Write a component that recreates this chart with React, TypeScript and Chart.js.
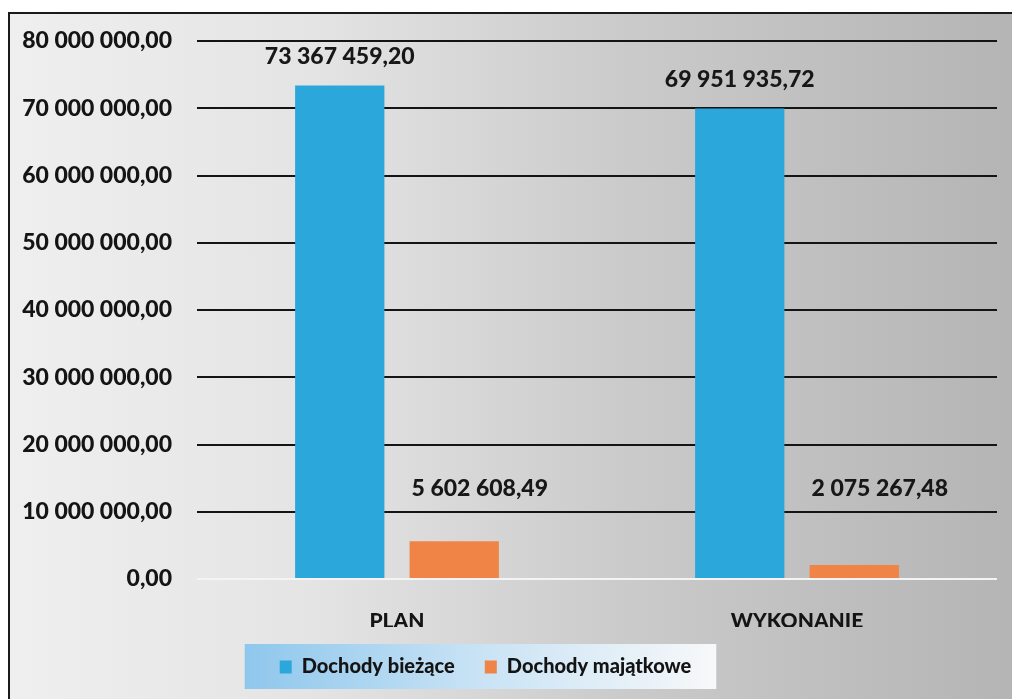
import React, { useEffect, useRef } from 'react';
import { Chart, registerables } from 'chart.js';

Chart.register(...registerables);

const categories = ['PLAN', 'WYKONANIE'];
const seriesNames = ['Dochody bieżące', 'Dochody majątkowe'];
const dochodyBiezace = [73367459.2, 69951935.72];
const dochodyMajatkowe = [5602608.49, 2075267.48];
const yMin = 0;
const yMax = 80000000;
const yStep = 10000000;

const FONT = 'Lato, "Open Sans", sans-serif';
const BLUE = '#2CA7DC';
const ORANGE = '#EF8446';

function formatPL(v: number): string {
  const [int, dec] = v.toFixed(2).split('.');
  return int.replace(/\B(?=(\d{3})+(?!\d))/g, ' ') + ',' + dec;
}

const valueLabels = {
  id: 'valueLabels',
  afterDatasetsDraw(chart: any) {
    const ctx = chart.ctx;
    const y0 = chart.scales.y.getPixelForValue(0);
    ctx.save();
    ctx.font = `900 23px ${FONT}`;
    ctx.fillStyle = '#171717';
    ctx.textBaseline = 'middle';
    chart.data.datasets.forEach((ds: any, di: number) => {
      const meta = chart.getDatasetMeta(di);
      meta.data.forEach((bar: any, i: number) => {
        const text = formatPL(ds.data[i]);
        if (di === 0) {
          ctx.textAlign = 'center';
          ctx.fillText(text, bar.x, bar.y - 29);
        } else {
          ctx.textAlign = 'left';
          ctx.fillText(text, bar.x - bar.width / 2 + 2, y0 - 90);
        }
      });
    });
    ctx.restore();
  },
};

const legendShift = {
  id: 'legendShift',
  afterLayout(chart: any) {
    const lg = chart.legend;
    if (!lg) return;
    lg.right -= 26;
    lg.width -= 26;
  },
};

const legendBg = {
  id: 'legendBg',
  beforeDraw(chart: any) {
    const lg = chart.legend;
    if (!lg || !lg.legendHitBoxes || !lg.legendHitBoxes.length) return;
    const boxes = lg.legendHitBoxes;
    const left = boxes[0].left - 35;
    const right = boxes[boxes.length - 1].left + boxes[boxes.length - 1].width + 25;
    const cy = boxes[0].top + boxes[0].height / 2;
    const top = cy - 23;
    const bottom = cy + 22;
    const ctx = chart.ctx;
    const g = ctx.createLinearGradient(left, 0, right, 0);
    g.addColorStop(0, '#8fc7ec');
    g.addColorStop(0.5, '#c9e3f5');
    g.addColorStop(1, '#f7f8f9');
    ctx.save();
    ctx.fillStyle = g;
    ctx.fillRect(left, top, right - left, bottom - top);
    ctx.restore();
  },
};

export default function App() {
  const canvasRef = useRef<HTMLCanvasElement | null>(null);

  useEffect(() => {
    if (!canvasRef.current) return;
    const chart = new Chart(canvasRef.current, {
      type: 'bar',
      data: {
        labels: categories,
        datasets: [
          {
            label: seriesNames[0],
            data: dochodyBiezace,
            backgroundColor: BLUE,
            borderWidth: 0,
            categoryPercentage: 0.5725,
            barPercentage: 0.78,
          },
          {
            label: seriesNames[1],
            data: dochodyMajatkowe,
            backgroundColor: ORANGE,
            borderWidth: 0,
            categoryPercentage: 0.5725,
            barPercentage: 0.78,
          },
        ],
      },
      options: {
        responsive: true,
        maintainAspectRatio: false,
        animation: false,
        layout: { padding: { left: 0, right: 15, top: 41, bottom: 12 } },
        plugins: {
          tooltip: { enabled: false },
          legend: {
            position: 'bottom',
            labels: {
              font: { family: FONT, size: 20, weight: '900' },
              color: '#141414',
              boxWidth: 12,
              boxHeight: 13,
              padding: 30,
            },
          },
        },
        scales: {
          x: {
            grid: { display: false },
            border: { display: false },
            ticks: {
              color: '#141414',
              font: { family: FONT, size: 21, weight: '900' },
              padding: 22,
              autoSkip: false,
              maxRotation: 0,
            },
            afterFit: (scale: any) => {
              scale.height = 48;
            },
          },
          y: {
            min: yMin,
            max: yMax,
            border: { display: false },
            grid: {
              drawTicks: false,
              lineWidth: 2,
              color: (c: any) => (c.tick && c.tick.value === 0 ? '#f4f4f4' : '#141414'),
            },
            ticks: {
              stepSize: yStep,
              padding: 25,
              color: '#141414',
              font: { family: FONT, size: 23, weight: '900' },
              callback: (v: any) => formatPL(Number(v)),
            },
            afterFit: (scale: any) => {
              scale.width = 197;
            },
          },
        },
      },
      plugins: [legendShift, legendBg, valueLabels],
    });
    return () => chart.destroy();
  }, []);

  return (
    <div style={{ position: 'fixed', left: 0, top: 0, width: 1012, height: 699, background: '#ffffff', overflow: 'hidden' }}>
      <div
        style={{
          position: 'absolute',
          left: 8,
          top: 12,
          width: 1012,
          height: 700,
          borderTop: '2px solid #1a1a1a',
          borderLeft: '2px solid #1a1a1a',
          background: 'linear-gradient(to right, #efefef 0%, #e4e4e4 30%, #cbcbcb 60%, #b4b4b4 100%)',
        }}
      />
      <div style={{ position: 'absolute', left: 0, top: 0, width: 1012, height: 699 }}>
        <canvas ref={canvasRef} />
      </div>
    </div>
  );
}
